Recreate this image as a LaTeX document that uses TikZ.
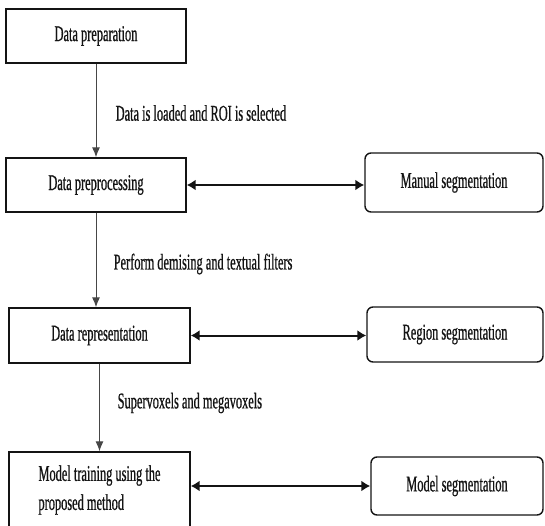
\documentclass[tikz,border=0pt]{standalone}
\usepackage{fontspec}
\setmainfont[FakeStretch=0.55,FakeBold=0.7]{Liberation Serif}
\usetikzlibrary{arrows.meta,positioning,calc}
\definecolor{ink}{RGB}{20,20,20}
\definecolor{soft}{RGB}{70,70,70}
\tikzset{
  every picture/.style={color=ink, line width=1.4pt, font=\fontsize{22.5}{29}\selectfont},
  box/.style={draw=ink, fill=white, inner sep=0pt, align=center},
  outbox/.style={box, rounded corners=6pt},
  flow/.style={-{Latex[length=10pt,width=8pt]}, line width=1pt, color=soft},
  both/.style={{Latex[length=9pt,width=11pt]}-{Latex[length=9pt,width=11pt]}, line width=2pt, color=ink},
  lbl/.style={anchor=west, inner sep=0pt, text=ink},
}

\begin{document}
\begin{tikzpicture}[x=1pt, y=-1pt]
  \useasboundingbox (0,0) rectangle (545,526);
  % main column, top to bottom
  \node[box, minimum width=180pt, minimum height=54pt] (prep) at (96,36) {Data preparation};
  \node[box, minimum width=180pt, minimum height=54pt] (preproc) at (96,185) {Data preprocessing};
  \node[box, minimum width=181pt, minimum height=55pt] (repr) at (99.5,335.5) {Data representation};
  \node[box, minimum width=181pt, minimum height=76pt, align=left] (train) at (99.5,490) {Model training using the\\proposed method};
  % segmentation side
  \node[outbox, minimum width=178pt, minimum height=59pt] (manual) at (454,182.5) {Manual segmentation};
  \node[outbox, minimum width=176pt, minimum height=55pt] (region) at (455,334.5) {Region segmentation};
  \node[outbox, minimum width=172pt, minimum height=58pt] (model) at (457,486) {Model segmentation};
  % step labels
  \node[lbl] (l1) at (115,113) {Data is loaded and ROI is selected};
  \node[lbl] (l2) at (113,264) {Perform demising and textual filters};
  \node[lbl] (l3) at (117,403) {Supervoxels and megavoxels};
  \draw[flow] (prep) -- (preproc);
  \draw[flow] (preproc.south) -- (preproc.south |- repr.north);
  \draw[flow] (repr) -- (train);
  \draw[both] (preproc.east) -- (preproc.east -| manual.west);
  \draw[both] (repr.east) -- (repr.east -| region.west);
  \draw[both] (train.east |- model.west) -- (model.west);
\end{tikzpicture}
\end{document}
